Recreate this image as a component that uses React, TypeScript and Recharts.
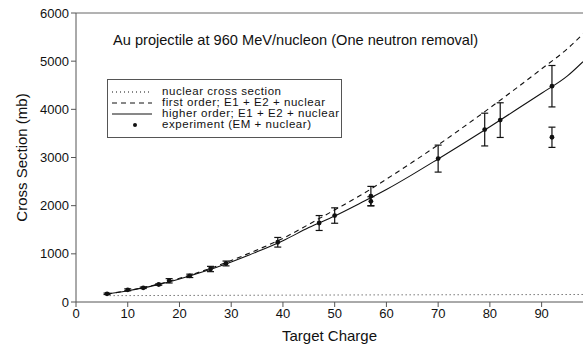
import React from "react";
import {
  ComposedChart,
  Line,
  Scatter,
  ErrorBar,
  XAxis,
  YAxis,
  ReferenceLine,
  Label,
} from "recharts";

const FONT = "'Liberation Sans', Arial, Helvetica, sans-serif";

const xTicks = [0, 10, 20, 30, 40, 50, 60, 70, 80, 90];
const yTicks = [0, 1000, 2000, 3000, 4000, 5000, 6000];

const curveZ = [6, 10, 15, 20, 25, 30, 35, 40, 45, 50, 55, 60, 65, 70, 75, 80, 85, 90, 95, 98];
const higherOrder = [165, 235, 340, 478, 642, 832, 1042, 1272, 1545, 1785, 2055, 2335, 2645, 2970, 3300, 3640, 3985, 4335, 4695, 4990];
const firstOrder = [165, 238, 348, 492, 662, 862, 1082, 1322, 1612, 1912, 2215, 2550, 2900, 3262, 3640, 4030, 4430, 4840, 5260, 5565];

const nuclearZ = [6.5, 20, 40, 60, 80, 98];
const nuclearValues = [132, 136, 142, 148, 152, 156];

const expZ = [6, 10, 13, 16, 18, 22, 26, 29, 39, 47, 50, 57, 57, 70, 79, 82, 92, 92];
const expValues = [170, 253, 295, 363, 440, 543, 685, 800, 1240, 1640, 1795, 2200, 2090, 2977, 3580, 3776, 4480, 3420];
const expErrors = [15, 20, 15, 15, 45, 35, 55, 50, 100, 155, 160, 200, 95, 280, 340, 360, 430, 210];

const higherData = curveZ.map((x, i) => ({ x, y: higherOrder[i] }));
const firstData = curveZ.map((x, i) => ({ x, y: firstOrder[i] }));
const nuclearData = nuclearZ.map((x, i) => ({ x, y: nuclearValues[i] }));
const expData = expZ.map((x, i) => ({ x, y: expValues[i], err: expErrors[i] }));

const legendItems = [
  { label: "nuclear cross section", kind: "dotted" },
  { label: "first order; E1 + E2 + nuclear", kind: "dashed" },
  { label: "higher order; E1 + E2 + nuclear", kind: "solid" },
  { label: "experiment (EM + nuclear)", kind: "dot" },
];

const Dot = (props: any) => {
  const { cx, cy } = props;
  if (cx == null || cy == null) return null;
  return <circle cx={cx} cy={cy} r={2.4} fill="#111" />;
};

export default function App() {
  return (
    <div
      style={{
        position: "absolute",
        left: 0,
        top: 0,
        width: 583,
        height: 345,
        background: "#fff",
        fontFamily: FONT,
      }}
    >
      <ComposedChart
        width={583}
        height={345}
        margin={{ top: 13, right: 0, bottom: 0, left: 0 }}
      >
        <XAxis
          dataKey="x"
          type="number"
          domain={[0, 98]}
          ticks={xTicks}
          allowDataOverflow
          height={43}
          tickSize={5}
          stroke="#555"
          tick={{ fill: "#111", fontSize: 13, fontFamily: FONT }}
        >
          <Label
            value="Target Charge"
            position="insideBottom"
            offset={4}
            style={{ fill: "#111", fontSize: 15, fontFamily: FONT }}
          />
        </XAxis>
        <YAxis
          type="number"
          domain={[0, 6000]}
          ticks={yTicks}
          width={76}
          tickSize={5}
          stroke="#555"
          tick={{ fill: "#111", fontSize: 13, fontFamily: FONT }}
        >
          <Label
            value="Cross Section (mb)"
            angle={-90}
            position="insideLeft"
            offset={22}
            style={{ fill: "#111", fontSize: 15, fontFamily: FONT, textAnchor: "middle" }}
          />
        </YAxis>
        <ReferenceLine y={6000} stroke="#666" strokeWidth={1} />
        <Line
          data={nuclearData}
          dataKey="y"
          type="monotone"
          stroke="#333"
          strokeWidth={1}
          strokeDasharray="1 3"
          dot={false}
          isAnimationActive={false}
        />
        <Line
          data={firstData}
          dataKey="y"
          type="monotone"
          stroke="#111"
          strokeWidth={1.1}
          strokeDasharray="5 4"
          dot={false}
          isAnimationActive={false}
        />
        <Line
          data={higherData}
          dataKey="y"
          type="monotone"
          stroke="#111"
          strokeWidth={1.1}
          dot={false}
          isAnimationActive={false}
        />
        <Scatter data={expData} dataKey="y" shape={<Dot />} isAnimationActive={false}>
          <ErrorBar dataKey="err" direction="y" width={3.5} stroke="#111" strokeWidth={1.2} />
        </Scatter>
      </ComposedChart>

      <div
        style={{
          position: "absolute",
          left: 113,
          top: 32,
          fontSize: 14.6,
          color: "#111",
          whiteSpace: "nowrap",
        }}
      >
        Au projectile at 960 MeV/nucleon (One neutron removal)
      </div>

      <div
        style={{
          position: "absolute",
          left: 107,
          top: 79,
          width: 235,
          height: 59,
          border: "1px solid #555",
          boxSizing: "border-box",
          paddingTop: 6,
        }}
      >
        {legendItems.map((it) => (
          <div
            key={it.label}
            style={{ display: "flex", alignItems: "center", height: 11, whiteSpace: "nowrap" }}
          >
            <svg width={54} height={10} style={{ flex: "none" }}>
              {it.kind === "dot" ? (
                <circle cx={27} cy={5} r={2} fill="#111" />
              ) : (
                <line
                  x1={4}
                  x2={44}
                  y1={5}
                  y2={5}
                  stroke="#111"
                  strokeWidth={1}
                  strokeDasharray={it.kind === "dotted" ? "1 3" : it.kind === "dashed" ? "5 4" : undefined}
                />
              )}
            </svg>
            <span style={{ fontSize: 11.5, letterSpacing: 0.55, color: "#111", lineHeight: "11px" }}>
              {it.label}
            </span>
          </div>
        ))}
      </div>
    </div>
  );
}
